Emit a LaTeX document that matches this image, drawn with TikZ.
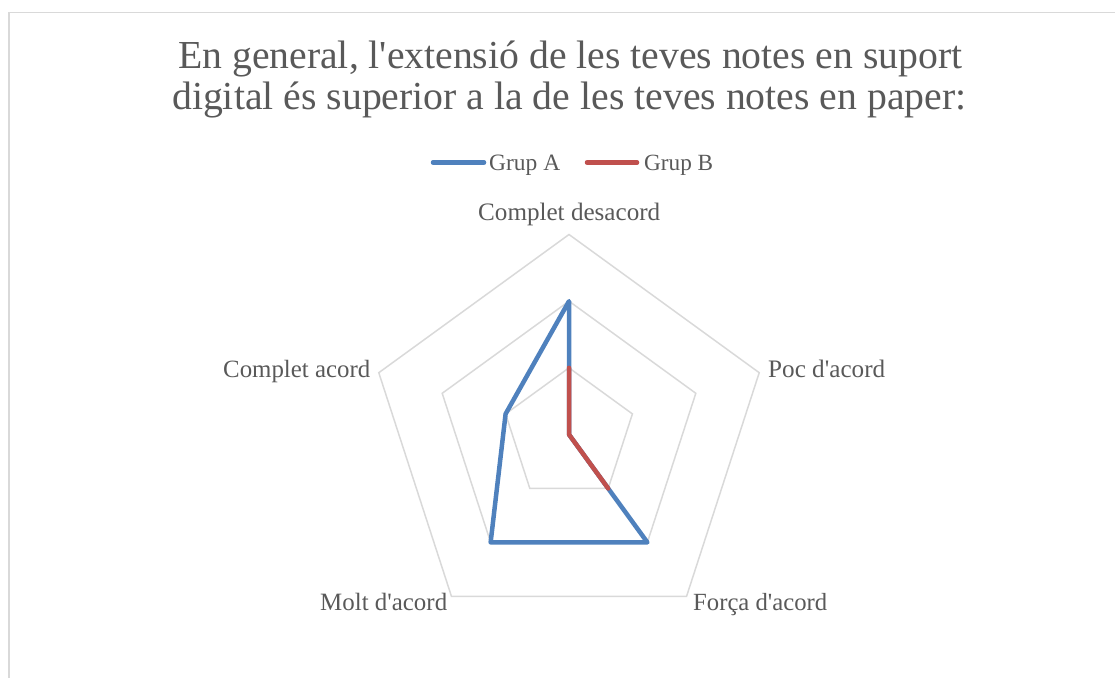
\documentclass[tikz,border=0pt]{standalone}
\usepackage{fontspec}
\usepackage{graphicx}
\usetikzlibrary{calc}
\setmainfont{Liberation Serif}[Ligatures=TeXOff]
\definecolor{txt}{HTML}{595959}
\definecolor{grid}{HTML}{D9D9D9}
\definecolor{ga}{HTML}{4F81BD}
\definecolor{gb}{HTML}{C0504D}
\newcommand\fitw[2]{\resizebox{#1}{!}{#2}}
\begin{document}
\begin{tikzpicture}[x=1pt,y=-1pt,
  lbl/.style={inner sep=0pt,text=txt,font=\rmfamily},
  gridline/.style={draw=grid,line width=1.5pt,line join=miter},
  serieA/.style={draw=ga,line width=4.5pt,line join=round,line cap=round},
  serieB/.style={draw=gb,line width=4.5pt,line join=round,line cap=round},
  framestyle/.style={draw=grid,line width=1.5pt}]
\useasboundingbox (0,0) rectangle (1115,677);
% frame
\coordinate (fbl) at (9,700);
\coordinate (ftl) at (9,12.5);
\coordinate (ftr) at (1130,12.5);
\draw[framestyle] (fbl) -- (ftl) -- (ftr);
% title
\node[lbl,anchor=base west] (t1) at (178,68) {\fitw{784pt}{En general, l'extensió de les teves notes en suport}};
\node[lbl,anchor=base west] (t2) at (172,109) {\fitw{794pt}{digital és superior a la de les teves notes en paper:}};
% legend
\coordinate (la1) at (433,162.5);
\coordinate (la2) at (484,162.5);
\coordinate (lb1) at (587,162.5);
\coordinate (lb2) at (637,162.5);
\draw[serieA] (la1) -- (la2);
\draw[serieB] (lb1) -- (lb2);
\node[lbl,anchor=base west] (lga) at (489,170) {\fitw{71pt}{Grup A}};
\node[lbl,anchor=base west] (lgb) at (644,170) {\fitw{69pt}{Grup B}};
% radar
\coordinate (C) at (569,434.5);
\foreach \i/\ang in {1/-90,2/-18,3/54,4/126,5/198}{
  \foreach \k in {1,2,3}{
    \coordinate (r\k-\i) at ($(C)+(\ang:{200*\k/3})$);
  }
}
\foreach \k in {1,2,3}{
  \draw[gridline] (r\k-1) -- (r\k-2) -- (r\k-3) -- (r\k-4) -- (r\k-5) -- cycle;
}
% axis labels
\node[lbl,anchor=base west] (l1) at (478,220) {\fitw{182pt}{Complet desacord}};
\node[lbl,anchor=base west] (l2) at (768,377) {\fitw{117pt}{Poc d'acord}};
\node[lbl,anchor=base west] (l3) at (693,610) {\fitw{134pt}{Força d'acord}};
\node[lbl,anchor=base west] (l4) at (320,610) {\fitw{127pt}{Molt d'acord}};
\node[lbl,anchor=base west] (l5) at (223,377) {\fitw{147pt}{Complet acord}};
% data
\coordinate (A1) at (r2-1);
\coordinate (A2) at (C);
\coordinate (A3) at (r2-3);
\coordinate (A4) at (r2-4);
\coordinate (A5) at (r1-5);
\coordinate (B1) at (r1-1);
\coordinate (B2) at (C);
\coordinate (B3) at (r1-3);
\coordinate (B4) at (C);
\coordinate (B5) at (C);
\draw[serieA] (A1) -- (A2) -- (A3) -- (A4) -- (A5) -- cycle;
\draw[serieB] (B1) -- (B2) -- (B3) -- (B4) -- (B5) -- cycle;
\end{tikzpicture}
\end{document}
